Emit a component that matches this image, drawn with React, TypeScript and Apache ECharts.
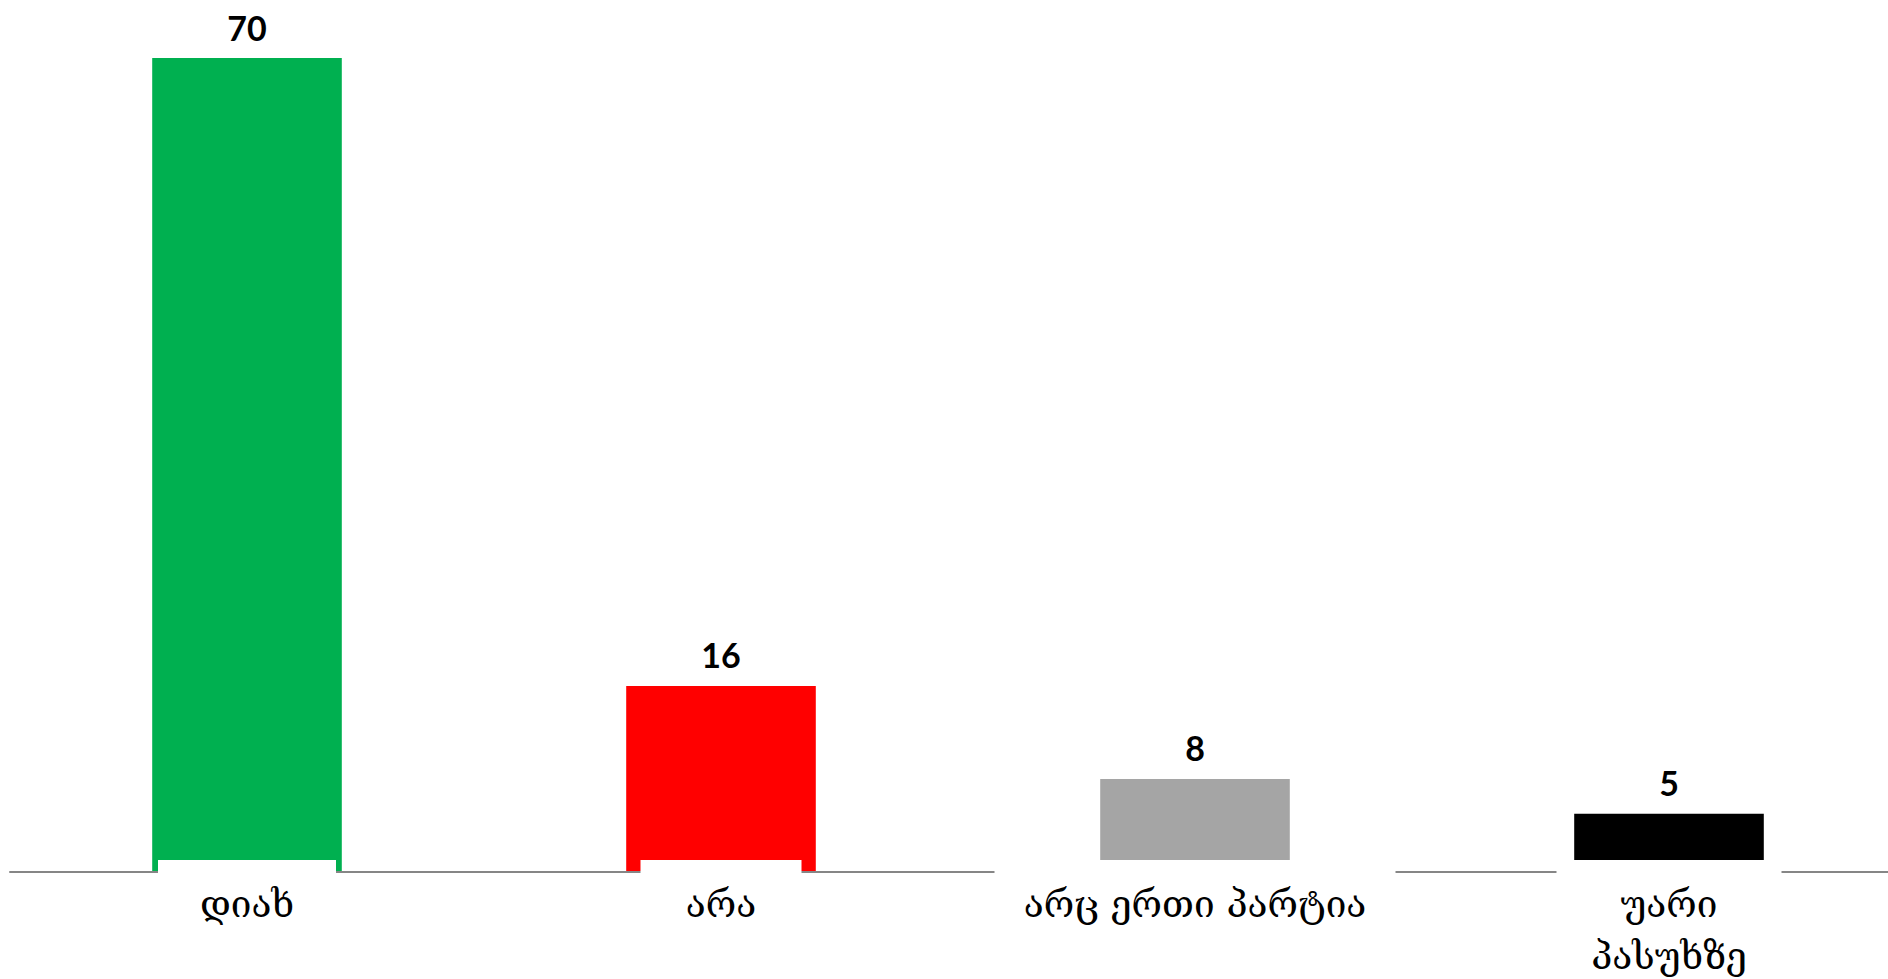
import React, { useEffect, useRef } from "react";
import * as echarts from "echarts";

const categories = ["დიახ", "არა", "არც ერთი პარტია", "უარი\nპასუხზე"];
const values = [70, 16, 8, 5];
const barColors = ["#00B050", "#FF0000", "#A5A5A5", "#000000"];
const labelBoxWidths = [178, 161, 401, 225];

export default function App() {
  const ref = useRef<HTMLDivElement>(null);
  useEffect(() => {
    if (!ref.current) return;
    const chart = echarts.init(ref.current, null, { renderer: "svg" });
    chart.setOption({
      animation: false,
      backgroundColor: "#ffffff",
      grid: {
        left: 10,
        right: 0,
        top: 58,
        bottom: 107,
        containLabel: false,
        outerBoundsMode: "none",
      },
      xAxis: {
        type: "category",
        z: 5,
        data: categories.map((c, i) => ({ value: c, textStyle: { width: labelBoxWidths[i] } })),
        axisTick: { show: false },
        axisLine: { lineStyle: { color: "#868686", width: 2 } },
        axisLabel: {
          interval: 0,
          margin: -12,
          backgroundColor: "#ffffff",
          padding: [18, 0, 0, 0],
          fontFamily: "DejaVu Serif, DejaVu Sans",
          fontSize: 37,
          lineHeight: 52,
          color: "#000000",
          align: "center",
        },
      },
      yAxis: { type: "value", min: 0, max: 70, show: false, splitLine: { show: false } },
      series: [
        {
          type: "bar",
          barWidth: "40%",
          data: values.map((v, i) => ({ value: v, itemStyle: { color: barColors[i] } })),
          label: {
            show: true,
            position: "top",
            distance: 14,
            fontFamily: "Lato",
            fontWeight: "bold",
            fontSize: 34,
            color: "#000000",
          },
        },
      ],
    });
    return () => chart.dispose();
  }, []);
  return (
    <div
      style={{ position: "absolute", left: 0, top: 0, width: 1888, height: 979, overflow: "hidden" }}
    >
      <div ref={ref} style={{ width: 1906, height: 979 }} />
    </div>
  );
}
